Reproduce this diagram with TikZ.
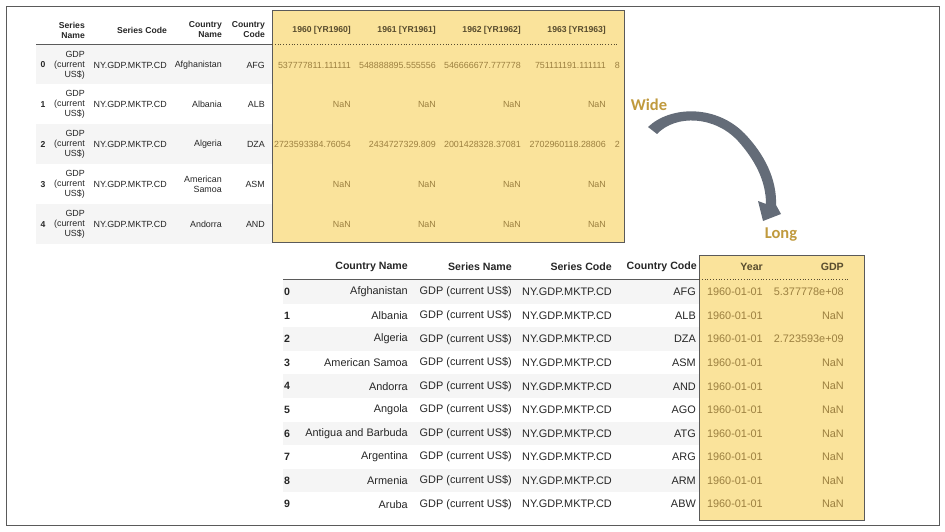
\documentclass[tikz,border=0pt]{standalone}
\usepackage{fontspec}
\setmainfont{Liberation Sans}
\newfontfamily\calib{Carlito}
\definecolor{ylw}{HTML}{FAE39B}
\definecolor{rowgray}{HTML}{F5F5F5}
\definecolor{golden}{HTML}{C09A3E}
\definecolor{ydata}{HTML}{9C8040}
\definecolor{yhead}{HTML}{584C2E}
\definecolor{txt}{HTML}{262626}
\definecolor{arrowc}{HTML}{646C78}
\definecolor{framec}{HTML}{5A5A5A}
\begin{document}
\begin{tikzpicture}[x=1pt,y=-1pt,
  tcell/.style={anchor=east,inner sep=0pt,text=txt,font={\fontsize{8.9}{10}\selectfont},align=right},
  thead/.style={tcell,font={\fontsize{8.6}{10}\selectfont\bfseries}},
  tydata/.style={tcell,text=ydata},
  tyhead/.style={thead,text=yhead},
  bcell/.style={anchor=east,inner sep=0pt,text=txt,font={\fontsize{10.9}{12}\selectfont}},
  bhead/.style={bcell,font={\fontsize{10.6}{12}\selectfont\bfseries}},
  bydata/.style={bcell,text=ydata},
  byhead/.style={bhead,text=yhead},
  yellowbox/.style={fill=ylw,draw=framec,line width=0.9pt},
  hdrline/.style={draw=framec,line width=1pt},
  hdrdots/.style={draw=yhead,line width=0.8pt,dotted},
  biglabel/.style={inner sep=0pt,text=golden,font={\calib\bfseries\fontsize{16.5}{18}\selectfont}}
]
\useasboundingbox (0,0) rectangle (945,532);
\draw[framec,line width=0.9pt] (6,6) rectangle (939,525);

% ---------------- top (wide) table ----------------
\foreach \i in {0,2,4}
  \fill[rowgray] (36,{44.5+39.8*\i}) rectangle (272,{84.3+39.8*\i});
\draw[yellowbox] (272,10) rectangle (624,242);
\draw[hdrline] (36,44.5) -- (272,44.5);
\draw[hdrdots] (272,44.5) -- (619,44.5);

\node[thead] (th-sn) at (85,30) {Series\\Name};
\node[thead] (th-sc) at (167,30) {Series Code};
\node[thead] (th-cn) at (222,30) {Country\\Name};
\node[thead] (th-cc) at (265,30) {Country\\Code};
\node[tyhead] (th-y0) at (351,30) {1960 [YR1960]};
\node[tyhead] (th-y1) at (436,30) {1961 [YR1961]};
\node[tyhead] (th-y2) at (521,30) {1962 [YR1962]};
\node[tyhead] (th-y3) at (606,30) {1963 [YR1963]};

\foreach \i/\cn/\cc/\va/\vb/\vc/\vd/\ve in {
  0/Afghanistan/AFG/537777811.111111/548888895.555556/546666677.777778/751111191.111111/8,
  1/Albania/ALB/NaN/NaN/NaN/NaN/{},
  2/Algeria/DZA/2723593384.76054/2434727329.809/2001428328.37081/2702960118.28806/2,
  3/{American\\Samoa}/ASM/NaN/NaN/NaN/NaN/{},
  4/Andorra/AND/NaN/NaN/NaN/NaN/{}} {
  \node[thead,anchor=center] (ti\i) at (43,{65+39.8*\i}) {\i};
  \node[tcell] (tsn\i) at (85,{65+39.8*\i}) {GDP\\(current\\US\$)};
  \node[tcell] (tsc\i) at (167,{65+39.8*\i}) {NY.GDP.MKTP.CD};
  \node[tcell] (tcn\i) at (222,{65+39.8*\i}) {\cn};
  \node[tcell] (tcc\i) at (265,{65+39.8*\i}) {\cc};
  \node[tydata] (ta\i) at (351,{65+39.8*\i}) {\va};
  \node[tydata] (tb\i) at (436,{65+39.8*\i}) {\vb};
  \node[tydata] (tc\i) at (521,{65+39.8*\i}) {\vc};
  \node[tydata] (td\i) at (606,{65+39.8*\i}) {\vd};
  \node[tydata] (te\i) at (620,{65+39.8*\i}) {\ve};
}

% ---------------- labels and arrow ----------------
\node[biglabel] (wide) at (649,105) {Wide};
\node[biglabel] (long) at (781,235) {Long};
\fill[arrowc] (648,127)
  .. controls (670,106) and (716,104) .. (745,134)
  .. controls (765,155) and (777,180) .. (776,205)
  -- (781,214) -- (763,221) -- (758,201) -- (766,204)
  .. controls (766,181) and (755,160) .. (738,141)
  .. controls (715,116) and (676,114) .. (657,134) -- cycle;

% ---------------- bottom (long) table ----------------
\foreach \i in {0,2,4,6,8}
  \fill[rowgray] (283,{280.2+23.57*\i}) rectangle (699,{303.8+23.57*\i});
\draw[yellowbox] (699,255) rectangle (864,520);
\draw[hdrline] (283,279.5) -- (699,279.5);
\draw[hdrdots] (699,279.5) -- (850,279.5);

\node[bhead] (bh-cn) at (408,267) {Country Name};
\node[bhead] (bh-sn) at (512,267) {Series Name};
\node[bhead] (bh-sc) at (612,267) {Series Code};
\node[bhead] (bh-cc) at (697,267) {Country Code};
\node[byhead] (bh-yr) at (763,267) {Year};
\node[byhead] (bh-gdp) at (844,267) {GDP};

\foreach \i/\cn/\cc/\g in {
  0/Afghanistan/AFG/5.377778e+08,
  1/Albania/ALB/NaN,
  2/Algeria/DZA/2.723593e+09,
  3/American Samoa/ASM/NaN,
  4/Andorra/AND/NaN,
  5/Angola/AGO/NaN,
  6/Antigua and Barbuda/ATG/NaN,
  7/Argentina/ARG/NaN,
  8/Armenia/ARM/NaN,
  9/Aruba/ABW/NaN} {
  \node[bhead,anchor=center] (bi\i) at (287,{292+23.57*\i}) {\i};
  \node[bcell] (bcn\i) at (408,{292+23.57*\i}) {\cn};
  \node[bcell] (bsn\i) at (512,{292+23.57*\i}) {GDP (current US\$)};
  \node[bcell] (bsc\i) at (612,{292+23.57*\i}) {NY.GDP.MKTP.CD};
  \node[bcell] (bcc\i) at (696,{292+23.57*\i}) {\cc};
  \node[bydata] (byr\i) at (763,{292+23.57*\i}) {1960-01-01};
  \node[bydata] (bg\i) at (844,{292+23.57*\i}) {\g};
}
\end{tikzpicture}
\end{document}
